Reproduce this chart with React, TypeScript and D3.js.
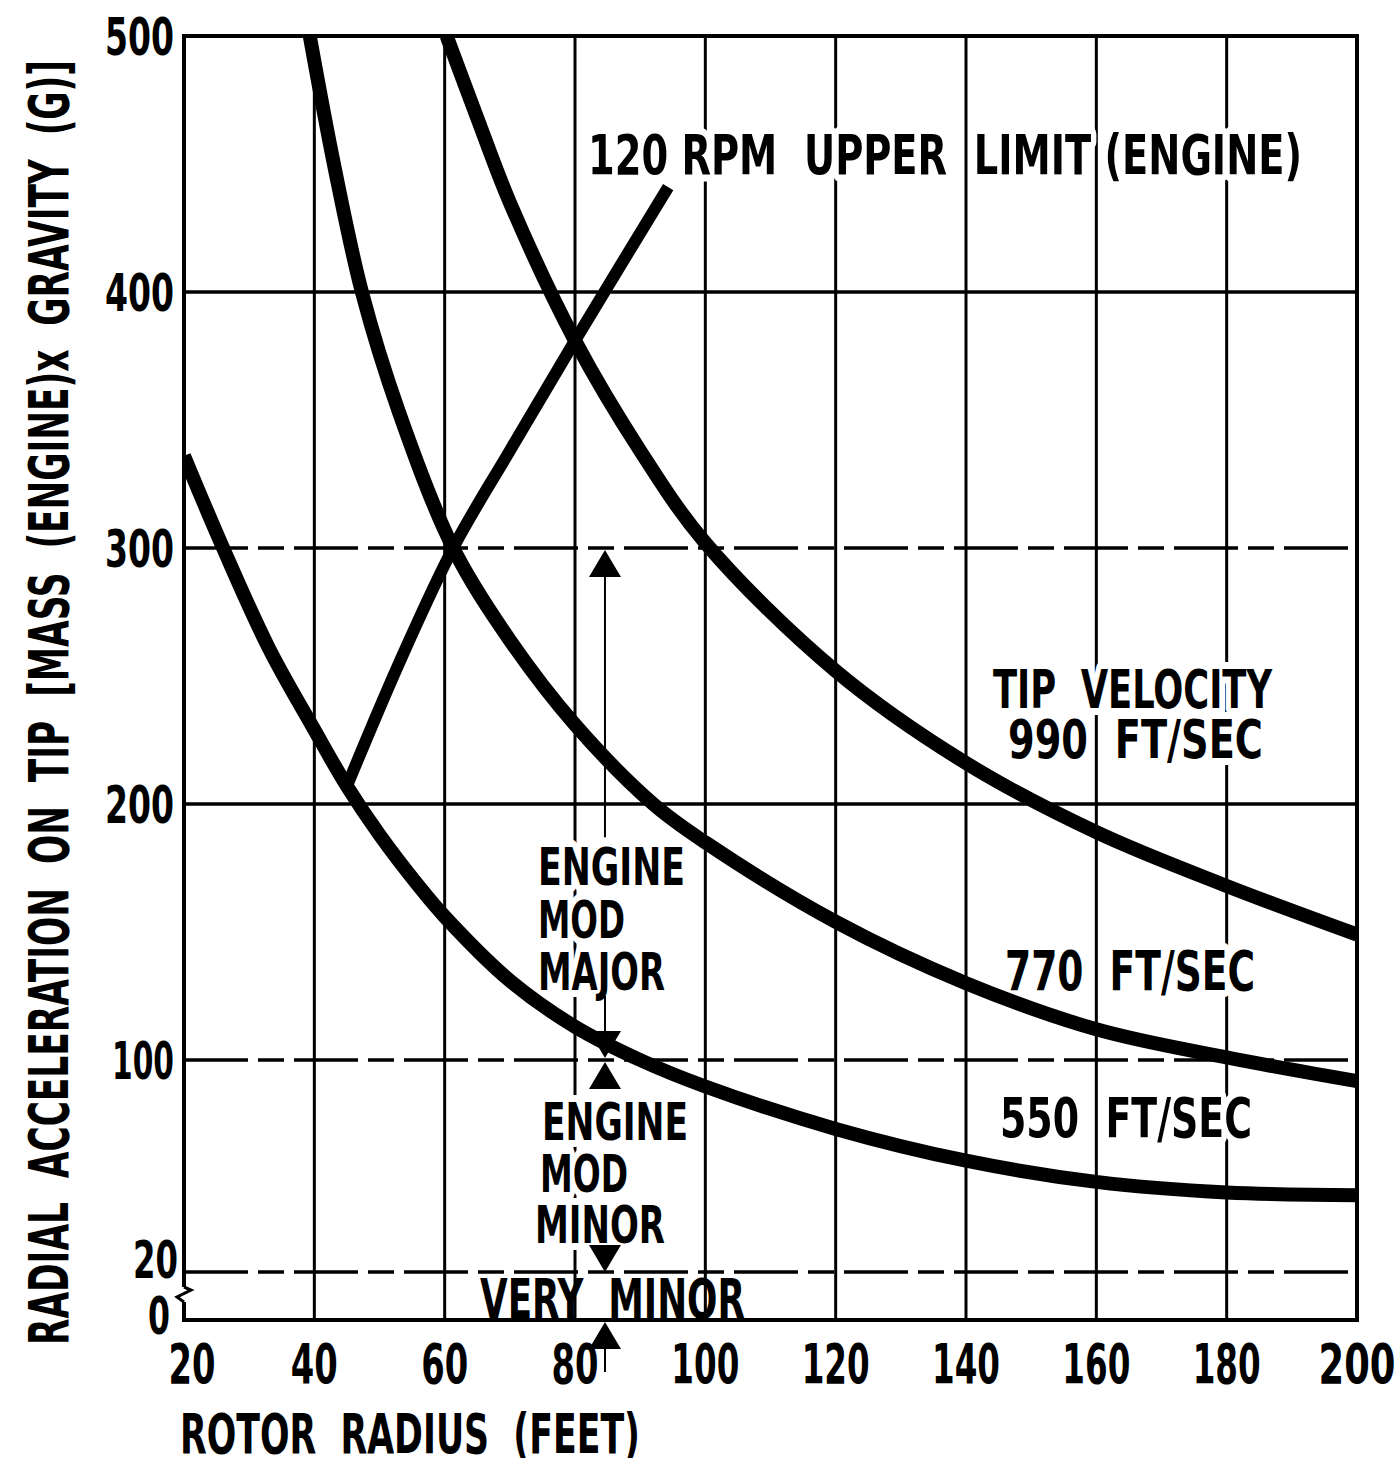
import React from 'react';
import * as d3 from 'd3';

// axis ticks
const radiusTicks = [20, 40, 60, 80, 100, 120, 140, 160, 180, 200];
const accelTicks = [0, 20, 100, 200, 300, 400, 500];
const solidLevels = [400, 200];
const dashedLevels = [300, 100, 20];

// curves: [rotor radius ft, radial accel g]
const tip990 = [[60.3, 500], [65, 468], [70, 435], [80, 381], [90, 338], [100, 302], [120, 252], [140, 216], [160, 189], [180, 168], [200, 149]];
const tip770 = [[39.3, 500], [43, 450], [47.3, 400], [53, 353], [61.3, 300], [70, 264], [80, 231], [92, 200], [100, 185], [120, 154], [140, 130], [160, 112], [180, 101], [200, 92]];
const tip550 = [[20, 336], [26, 300], [33, 261], [40, 229], [45, 207], [50, 188], [56, 168], [60, 156], [70, 131], [80, 113], [90, 100], [100, 90], [120, 74], [140, 62], [160, 54], [180, 50], [200, 49]];
const rpm120 = [[45, 207], [53, 255], [61.3, 300], [70, 338], [80, 381], [94.3, 441]];

// engine mod bands marked by the arrows
const arrowRadius = 84.6;
const bandLevels = [300, 100, 20, 0];

const W = 1398;
const H = 1458;
const x = d3.scaleLinear().domain([20, 200]).range([184, 1357]);
const y = d3.scaleLinear().domain([0, 20, 100, 500]).range([1320, 1272, 1060, 36]);

const FONT = "'Liberation Sans Narrow', 'DejaVu Sans Condensed', 'Arial Narrow', sans-serif";

const line = d3.line<number[]>().x(d => x(d[0])).y(d => y(d[1])).curve(d3.curveCatmullRom.alpha(0.5));

function Label({ x, y, w, size = 55, halo = true, anchor = 'start', children }: any) {
  return (
    <text x={x} y={y} textLength={w} lengthAdjust="spacingAndGlyphs" textAnchor={anchor}
      fontFamily={FONT} fontWeight="bold" fontSize={size} fill="#000"
      stroke={halo ? '#fff' : 'none'} strokeWidth={halo ? 14 : 0} strokeLinejoin="round"
      style={{ paintOrder: 'stroke', whiteSpace: 'pre' }}>{children}</text>
  );
}

function tri(cx: number, apex: number, up: boolean) {
  const h = 27, hw = 16;
  const b = up ? apex + h : apex - h;
  return `M${cx},${apex}L${cx - hw},${b}L${cx + hw},${b}Z`;
}

const xTickWidth = (t: number) => (t < 100 ? 47 : t === 200 ? 77 : 68);
const yTickWidth = (t: number) => (t === 0 ? 22 : t === 20 ? 45 : t === 100 ? 62 : 69);

export default function App() {
  const x0 = x(20), x1 = x(200), yTop = y(500), yBot = y(0);
  const ax = x(arrowRadius);
  const [a300, a100, a20, a0] = bandLevels.map(v => y(v));

  return (
    <svg width={W} height={H} style={{ position: 'absolute', left: 0, top: 0, background: '#fff' }}>
      <defs>
        <clipPath id="plot"><rect x={x0} y={yTop} width={x1 - x0} height={yBot - yTop} /></clipPath>
      </defs>
      <rect width={W} height={H} fill="#fff" />

      {/* grid */}
      <g stroke="#000" strokeWidth={3}>
        {radiusTicks.slice(1, -1).map(t => (
          <line key={t} x1={x(t)} x2={x(t)} y1={yTop} y2={yBot} />
        ))}
        {solidLevels.map(v => (
          <line key={v} x1={x0} x2={x1} y1={y(v)} y2={y(v)} strokeWidth={3.5} />
        ))}
        {dashedLevels.map(v => (
          <line key={v} x1={x0} x2={x1} y1={y(v)} y2={y(v)} strokeWidth={3.5} strokeDasharray="64 10 26 10" />
        ))}
      </g>

      {/* labels in plot (white halo breaks grid) */}
      <Label x={588} y={174} w={714} size={56}>{'120 RPM  UPPER  LIMIT (ENGINE)'}</Label>
      <Label x={993} y={708} w={279} size={53}>TIP  VELOCITY</Label>
      <Label x={1008} y={758} w={255} size={53}>990  FT/SEC</Label>
      <Label x={1005} y={990} w={250}>770  FT/SEC</Label>
      <Label x={1000} y={1137} w={252}>550  FT/SEC</Label>
      <Label x={538} y={885} w={147} size={52}>ENGINE</Label>
      <Label x={538} y={938} w={87} size={52}>MOD</Label>
      <Label x={538} y={990} w={127} size={52}>MAJOR</Label>
      <Label x={542} y={1140} w={146} size={52}>ENGINE</Label>
      <Label x={540} y={1192} w={88} size={52}>MOD</Label>
      <Label x={535} y={1243} w={130} size={52}>MINOR</Label>
      <Label x={480} y={1318} w={265} halo={false}>{'VERY  MINOR'}</Label>

      {/* curves */}
      <g clipPath="url(#plot)" fill="none" stroke="#000" strokeLinecap="butt">
        {[tip990, tip770, tip550].map((c, i) => (
          <path key={i} d={line(c) || ''} strokeWidth={14} />
        ))}
        <path d={line(rpm120) || ''} strokeWidth={12} />
      </g>

      {/* arrows */}
      <g stroke="#000" strokeWidth={2}>
        <line x1={ax} x2={ax} y1={a300 + 20} y2={y(187)} />
        <line x1={ax} x2={ax} y1={y(125)} y2={a100 - 20} />
        <line x1={ax} x2={ax} y1={a0 + 20} y2={a0 + 52} />
      </g>
      <g fill="#000">
        <path d={tri(ax, a300 + 2, true)} />
        <path d={tri(ax, a100 - 2, false)} />
        <path d={tri(ax, a100 + 2, true)} />
        <path d={tri(ax, a20, false)} />
        <path d={tri(ax, a0 + 2, true)} />
      </g>

      {/* frame with axis break */}
      <g fill="none" stroke="#000" strokeWidth={4}>
        <path d={`M${x0},1287L${x0},${yTop}L${x1},${yTop}L${x1},${yBot}L${x0},${yBot}L${x0},1302`} />
        <path d={`M${x0},1287L${x0 + 7},1290L${x0 - 7},1297L${x0},1302`} strokeWidth={3} />
      </g>

      {/* y tick labels */}
      {accelTicks.map(t => (
        <Label key={t} x={t === 20 ? 178 : t === 0 ? 170 : 174} y={y(t) + (t === 20 ? 6 : t === 0 ? 14 : 19)}
          w={yTickWidth(t)} size={51} halo={false} anchor="end">{String(t)}</Label>
      ))}
      {/* x tick labels */}
      {radiusTicks.map(t => (
        <Label key={t} x={x(t) + (t === 20 ? 8 : 0)} y={1383} w={xTickWidth(t)} size={55}
          halo={false} anchor="middle">{String(t)}</Label>
      ))}

      {/* axis titles */}
      <Label x={180} y={1453} w={460} size={56} halo={false}>{'ROTOR  RADIUS  (FEET)'}</Label>
      <g transform="translate(68,1345) rotate(-90)">
        <Label x={0} y={0} w={1285} size={55} halo={false}>{'RADIAL  ACCELERATION  ON  TIP  [MASS  (ENGINE)x  GRAVITY  (G)]'}</Label>
      </g>
    </svg>
  );
}
